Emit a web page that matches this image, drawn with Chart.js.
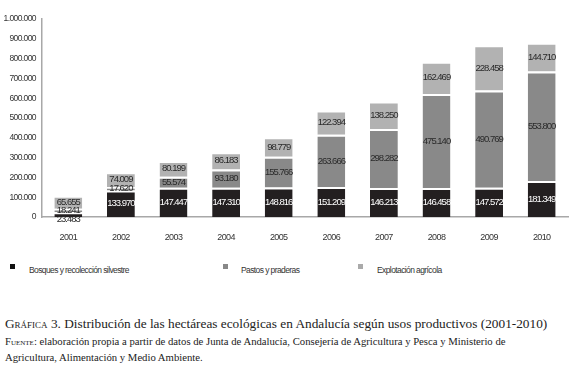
<!DOCTYPE html>
<html>
<head>
<meta charset="utf-8">
<script src="https://cdn.jsdelivr.net/npm/chart.js@4"></script>
<style>
  body { margin: 0; background: #fff; width: 580px; height: 372px; position: relative; overflow: hidden; }
  #wrap { position: absolute; left: 0; top: 0; width: 580px; height: 250px; }
  .leg { position: absolute; top: 264px; font: 8.5px 'Liberation Sans', Arial, sans-serif; letter-spacing: -0.6px; color: #333; }
  .leg i { position: absolute; top: 0; width: 5px; height: 5px; }
  .leg span { position: absolute; top: 1px; white-space: nowrap; }
  .cap { position: absolute; left: 5px; font-family: 'Liberation Serif', 'DejaVu Serif', serif; color: #222; white-space: nowrap; }
  .sc { font-variant: small-caps; }
</style>
</head>
<body>
<div id="wrap"><canvas id="chart" width="580" height="250"></canvas></div>

<div class="leg"><i style="left:10px;background:#111;"></i><span style="left:29px;">Bosques y recolección silvestre</span></div>
<div class="leg"><i style="left:223px;background:#888;"></i><span style="left:241px;">Pastos y praderas</span></div>
<div class="leg"><i style="left:358px;background:#aaa;"></i><span style="left:377px;">Explotación agrícola</span></div>

<div class="cap" style="top:316px;font-size:13.3px;"><span class="sc">Gráfica</span> 3. Distribución de las hectáreas ecológicas en Andalucía según usos productivos (2001-2010)</div>
<div class="cap" style="top:335px;font-size:10.7px;"><span class="sc">Fuente</span>: elaboración propia a partir de datos de Junta de Andalucía, Consejería de Agricultura y Pesca y Ministerio de</div>
<div class="cap" style="top:351px;font-size:10.7px;">Agricultura, Alimentación y Medio Ambiente.</div>

<script>
const years = ['2001', '2002', '2003', '2004', '2005', '2006', '2007', '2008', '2009', '2010'];
const bosques = [23483, 133970, 147447, 147310, 148816, 151209, 146213, 146458, 147572, 181349];
const pastos = [18241, 17620, 55574, 93180, 155766, 263666, 298282, 475140, 490769, 553800];
const agricola = [65655, 74009, 80199, 86183, 98779, 122394, 138250, 162469, 228458, 144710];
const seriesNames = ['Bosques y recolección silvestre', 'Pastos y praderas', 'Explotación agrícola'];
const fills = ['#231f20', '#898989', '#b2b2b2'];
const labelColors = ['#ffffff', '#2a2a2a', '#2a2a2a'];

const numFont = "'Liberation Sans', Arial, sans-serif";

function fmt(v) {
  return String(v).replace(/\B(?=(\d{3})+(?!\d))/g, '.');
}

// letra más estrecha para todo el canvas (la original es condensada)
const narrowText = {
  id: 'narrowText',
  beforeDraw(chart) {
    chart.ctx.letterSpacing = '-0.6px';
  }
};

// etiquetas de valor dentro de cada tramo
const segLabels = {
  id: 'segLabels',
  afterDatasetsDraw(chart) {
    const ctx = chart.ctx;
    ctx.save();
    ctx.font = '9.5px ' + numFont;
    ctx.letterSpacing = '-1px';
    ctx.textAlign = 'center';
    ctx.textBaseline = 'middle';
    chart.data.datasets.forEach((ds, di) => {
      const meta = chart.getDatasetMeta(di);
      meta.data.forEach((bar, i) => {
        const h = bar.base - bar.y;
        let y = (bar.y + bar.base) / 2;
        let color = labelColors[di];
        if (h < 10) {
          color = '#2a2a2a';
          if (di === 0) y = bar.base + 2;
        }
        ctx.fillStyle = color;
        ctx.fillText(fmt(ds.data[i]), bar.x, y);
      });
    });
    ctx.restore();
  }
};

new Chart(document.getElementById('chart'), {
  type: 'bar',
  data: {
    labels: years,
    datasets: [bosques, pastos, agricola].map((d, i) => ({
      label: seriesNames[i],
      data: d,
      backgroundColor: fills[i],
      borderColor: '#ffffff',
      borderWidth: { top: 2, right: 0, bottom: 0, left: 0 },
      borderSkipped: 'start',
      categoryPercentage: 1,
      barPercentage: 0.53
    }))
  },
  options: {
    responsive: false,
    animation: false,
    layout: { padding: { top: 19, right: 12, bottom: 0, left: 0 } },
    plugins: { legend: { display: false }, tooltip: { enabled: false } },
    scales: {
      x: {
        stacked: true,
        grid: { display: false, drawTicks: false },
        border: { display: true, color: '#a8a8a8', width: 1.5 },
        ticks: { color: '#333', font: { family: numFont, size: 9 }, padding: 15 },
        afterFit: s => { s.height = 33; }
      },
      y: {
        stacked: true,
        min: 0,
        max: 1000000,
        grid: { display: false, drawTicks: false },
        border: { display: true, color: '#a8a8a8', width: 1.5 },
        ticks: {
          stepSize: 100000,
          color: '#333',
          font: { family: numFont, size: 8.5 },
          padding: 6,
          callback: v => fmt(v)
        },
        afterFit: s => { s.width = 42; }
      }
    }
  },
  plugins: [narrowText, segLabels]
});
</script>
</body>
</html>
